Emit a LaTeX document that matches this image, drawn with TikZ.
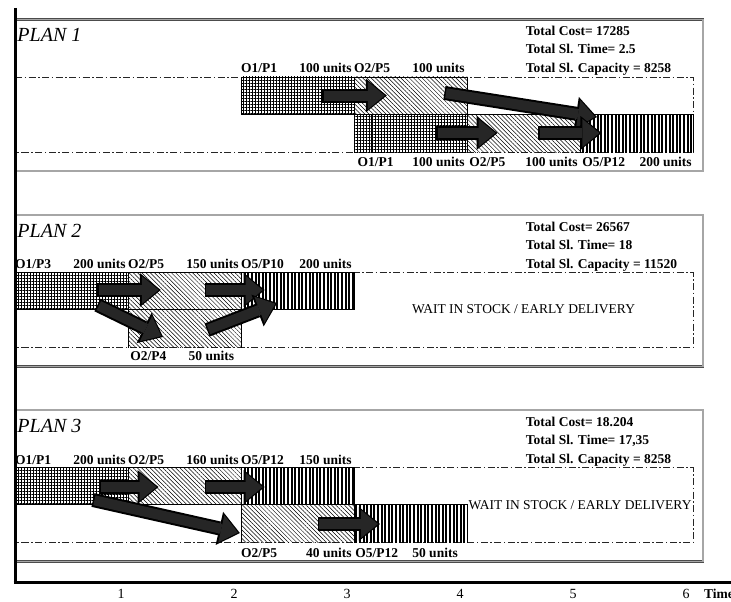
\documentclass[tikz,border=0pt]{standalone}
\usepackage{fontspec}
\setmainfont{Liberation Serif}
\usetikzlibrary{arrows.meta,patterns.meta}

\tikzset{
  frame/.style={draw=black!70, line width=0.5pt, double=black!35, double distance=1.5pt},
  dashdot/.style={black!85, line width=0.8pt, dash pattern=on 7pt off 2.5pt on 1.5pt off 2.5pt},
  crossbox/.style={draw=black, line width=0.7pt, pattern={Hatch[angle=0,distance=3pt,line width=0.45pt]}},
  diagbox/.style={draw=black, line width=0.7pt, pattern={Lines[angle=-45,distance=3pt,line width=0.5pt]}},
  stripebox/.style={draw=black, line width=0.7pt, pattern={Lines[angle=90,distance=3.6pt,line width=1.9pt]}},
  lbl/.style={font=\fontsize{13.5}{15}\selectfont\bfseries, inner sep=0pt},
  blkarrow/.style={line width=10pt, draw=black!85, shorten >=2pt, shorten <=1.5pt,
    -{Triangle[length=17pt,width=28pt,line width=0pt]},
    preaction={draw=black, line width=14pt, shorten >=0pt, shorten <=0pt,
      -{Triangle[length=21pt,width=34pt,line width=0pt]}}}
}

\begin{document}
\begin{tikzpicture}[x=1pt,y=-1pt]
\useasboundingbox (0,0) rectangle (731,602);

% frames, titles, totals
\foreach \pl/\top/\cost/\slt/\cap in {1/19.5/17285/2.5/8258,
    2/215/26567/18/11520, 3/410/18.204/{17,35}/8258}
{
  \begin{scope}[xshift=15pt, yshift=-\top pt, x=113pt]
  \draw[frame] (0,0) rectangle (6.09,151.5);
  \node[anchor=base west, inner sep=0pt, font=\fontsize{20}{22}\selectfont\itshape]
    (title\pl) at (0.02,22) {PLAN \pl};
  \node[lbl, anchor=base west] (cost\pl) at (4.52,16) {Total Cost= \cost};
  \node[lbl, anchor=base west] (time\pl) at (4.52,34.5) {Total Sl. Time= \slt};
  \node[lbl, anchor=base west] (cap\pl) at (4.52,53) {Total Sl. Capacity = \cap};
  \draw[dashdot] (0,57.5) -- (6,57.5) -- (6,132.5) -- (0,132.5);
  \end{scope}
}

% PLAN 1
\begin{scope}[xshift=15pt, yshift=-19.5pt, x=113pt]
\filldraw[crossbox] (2,57.5) rectangle (3,94.5);
\filldraw[diagbox] (3,57.5) rectangle (4,94.5);
\filldraw[crossbox] (3,132.5) |- (4,94.5) -- (4,132.5);
\filldraw[diagbox] (4,132.5) |- (5,94.5) -- (5,132.5);
\filldraw[stripebox] (5,132.5) |- (6,94.5) -- (6,132.5);
\draw[line width=0.7pt] (3.157,94.5) -- (3.157,132.5);
\foreach \x/\nm/\u/\un in {2/{O1/P1}/2.98/{100 units}, 3/{O2/P5}/3.98/{100 units}}
{
  \node[lbl, anchor=base west] (pa\x) at (\x,53) {\nm};
  \node[lbl, anchor=base east] (pau\x) at (\u,53) {\un};
}
\foreach \x/\nm/\u/\un in {3.03/{O1/P1}/3.98/{100 units},
    4.02/{O2/P5}/4.98/{100 units}, 5.02/{O5/P12}/5.99/{200 units}}
{
  \node[lbl, anchor=base west] (pb\x) at (\x,147) {\nm};
  \node[lbl, anchor=base east] (pbu\x) at (\u,147) {\un};
}
\coordinate (a1s) at (2.72,76);
\coordinate (a1e) at (3.29,76);
\coordinate (a2s) at (3.80,73.5);
\coordinate (a2e) at (5.15,97.5);
\coordinate (a3s) at (3.73,113.5);
\coordinate (a3e) at (4.27,113.5);
\coordinate (a4s) at (4.63,113.5);
\coordinate (a4e) at (5.19,113.5);
\draw[blkarrow] (a1s) -- (a1e);
\draw[blkarrow] (a2s) -- (a2e);
\draw[blkarrow] (a3s) -- (a3e);
\draw[blkarrow] (a4s) -- (a4e);
\end{scope}

% PLAN 2
\begin{scope}[xshift=15pt, yshift=-215pt, x=113pt]
\filldraw[crossbox] (0,57.5) rectangle (1,94.5);
\filldraw[diagbox] (1,57.5) rectangle (2,94.5);
\filldraw[stripebox] (2,57.5) rectangle (3,94.5);
\filldraw[diagbox] (1,132.5) |- (2,94.5) -- (2,132.5);
\foreach \x/\nm/\u/\un in {0/{O1/P3}/0.98/{200 units},
    1/{O2/P5}/1.98/{150 units}, 2/{O5/P10}/2.98/{200 units}}
{
  \node[lbl, anchor=base west] (qa\x) at (\x,53) {\nm};
  \node[lbl, anchor=base east] (qau\x) at (\u,53) {\un};
}
\node[lbl, anchor=base west] (qb1) at (1.02,145.5) {O2/P4};
\node[lbl, anchor=base east] (qbu1) at (1.94,145.5) {50 units};
\node[font=\fontsize{13.5}{15}\selectfont] (wait2) at (4.5,94) {WAIT IN STOCK / EARLY DELIVERY};
\coordinate (b1s) at (0.73,75);
\coordinate (b1e) at (1.29,75);
\coordinate (b2s) at (0.73,90);
\coordinate (b2e) at (1.31,122);
\coordinate (b3s) at (1.68,75);
\coordinate (b3e) at (2.21,75);
\coordinate (b4s) at (1.70,115);
\coordinate (b4e) at (2.32,88);
\draw[blkarrow] (b1s) -- (b1e);
\draw[blkarrow] (b2s) -- (b2e);
\draw[blkarrow] (b3s) -- (b3e);
\draw[blkarrow] (b4s) -- (b4e);
\end{scope}

% PLAN 3
\begin{scope}[xshift=15pt, yshift=-410pt, x=113pt]
\filldraw[crossbox] (0,57.5) rectangle (1,94.5);
\filldraw[diagbox] (1,57.5) rectangle (2,94.5);
\filldraw[stripebox] (2,57.5) rectangle (3,94.5);
\filldraw[diagbox] (2,132.5) |- (3,94.5) -- (3,132.5);
\filldraw[stripebox] (3,132.5) |- (4,94.5) -- (4,132.5);
\foreach \x/\nm/\u/\un in {0/{O1/P1}/0.98/{200 units},
    1/{O2/P5}/1.98/{160 units}, 2/{O5/P12}/2.98/{150 units}}
{
  \node[lbl, anchor=base west] (ra\x) at (\x,54) {\nm};
  \node[lbl, anchor=base east] (rau\x) at (\u,54) {\un};
}
\foreach \x/\nm/\u/\un in {2/{O2/P5}/2.98/{40 units}, 3.01/{O5/P12}/3.92/{50 units}}
{
  \node[lbl, anchor=base west] (rb\x) at (\x,147) {\nm};
  \node[lbl, anchor=base east] (rbu\x) at (\u,147) {\un};
}
\node[font=\fontsize{13.5}{15}\selectfont] (wait3) at (5.0,95.5) {WAIT IN STOCK / EARLY DELIVERY};
\coordinate (c1s) at (0.75,77);
\coordinate (c1e) at (1.27,77);
\coordinate (c2s) at (1.68,77);
\coordinate (c2e) at (2.21,77);
\coordinate (c3s) at (0.69,90);
\coordinate (c3e) at (1.99,123);
\coordinate (c4s) at (2.68,114);
\coordinate (c4e) at (3.23,114);
\draw[blkarrow] (c1s) -- (c1e);
\draw[blkarrow] (c2s) -- (c2e);
\draw[blkarrow] (c3s) -- (c3e);
\draw[blkarrow] (c4s) -- (c4e);
\end{scope}

% axes
\draw[line width=3pt] (15,8) -- (15,582);
\draw[line width=3pt] (13.5,582) -- (731,582);
\foreach \t in {1,...,6}
  \node[font=\fontsize{14}{16}\selectfont] (tick\t) at ({8+113*\t},594) {\t};
\node[lbl, anchor=base west] (timelbl) at (704,598) {Time};
\end{tikzpicture}
\end{document}
